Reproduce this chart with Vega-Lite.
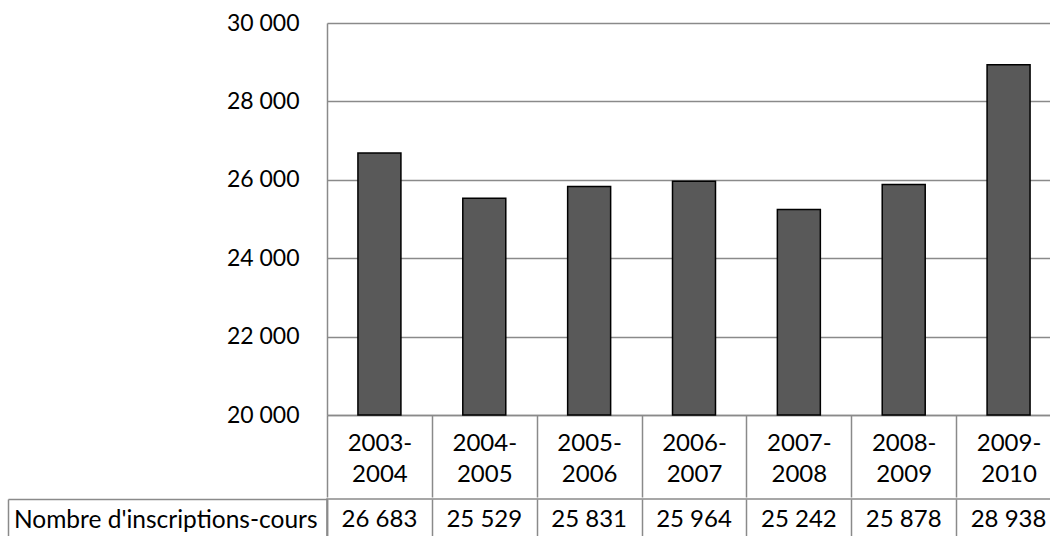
{
  "$schema": "https://vega.github.io/schema/vega-lite/v6.json",
  "padding": {"left": 6, "top": 12, "right": 0, "bottom": 0},
  "background": "white",
  "spacing": -13,
  "config": {
    "locale": {"number": {"decimal": ",", "thousands": " ", "grouping": [3], "currency": ["", " €"]}},
    "font": "Lato",
    "axis": {"labelFont": "Lato", "labelFontSize": 23, "labelColor": "#000", "labelLimit": 500, "domainColor": "#8a8a8a", "tickColor": "#8a8a8a", "gridColor": "#8a8a8a", "domainWidth": 1.5, "tickWidth": 1.5, "gridWidth": 1.5}
  },
  "data": {"values": [
    {"saison": "2003-2004", "inscriptions": 26683, "serie": "Nombre d'inscriptions-cours"},
    {"saison": "2004-2005", "inscriptions": 25529, "serie": "Nombre d'inscriptions-cours"},
    {"saison": "2005-2006", "inscriptions": 25831, "serie": "Nombre d'inscriptions-cours"},
    {"saison": "2006-2007", "inscriptions": 25964, "serie": "Nombre d'inscriptions-cours"},
    {"saison": "2007-2008", "inscriptions": 25242, "serie": "Nombre d'inscriptions-cours"},
    {"saison": "2008-2009", "inscriptions": 25878, "serie": "Nombre d'inscriptions-cours"},
    {"saison": "2009-2010", "inscriptions": 28938, "serie": "Nombre d'inscriptions-cours"}
  ]},
  "vconcat": [
    {
      "width": 734,
      "height": 392,
      "view": {"stroke": null},
      "mark": {"type": "bar", "fill": "#595959", "stroke": "#000000", "strokeWidth": 1.5, "width": {"band": 0.41}},
      "encoding": {
        "x": {"field": "saison", "type": "nominal", "sort": null,
          "scale": {"paddingInner": 0, "paddingOuter": 0},
          "axis": {"title": null, "orient": "bottom", "tickBand": "extent", "tickSize": 82, "labelPadding": -66, "labelFontSize": 24,
            "labelExpr": "[slice(datum.label, 0, 5), slice(datum.label, 5)]", "labelLineHeight": 31, "labelAngle": 0, "grid": false, "labelBaseline": "top"}},
        "y": {"field": "inscriptions", "type": "quantitative",
          "scale": {"domain": [20000, 30000], "nice": false, "zero": false},
          "axis": {"title": null, "values": [20000, 22000, 24000, 26000, 28000, 30000], "format": ",d", "ticks": false, "labelPadding": 28, "grid": true}},
        "y2": {"datum": 20000}
      }
    },
    {
      "width": 734,
      "height": 42,
      "view": {"stroke": "#8a8a8a", "strokeWidth": 1.5},
      "layer": [
        {
          "mark": {"type": "text", "fontSize": 24, "font": "Lato", "color": "#000000"},
          "encoding": {
            "x": {"field": "saison", "type": "nominal", "sort": null,
              "scale": {"type": "band", "paddingInner": 0, "paddingOuter": 0},
              "axis": {"title": null, "labels": false, "ticks": false, "domain": false, "grid": true, "tickBand": "extent", "orient": "bottom"}},
            "y": {"field": "serie", "type": "nominal",
              "scale": {"type": "band", "paddingInner": 0, "paddingOuter": 0},
              "axis": {"title": null, "tickBand": "extent", "tickSize": 319, "labelPadding": -309, "labelFontSize": 24.5, "domain": true, "grid": false}},
            "text": {"field": "inscriptions", "type": "quantitative", "format": ",d"}
          }
        },
        {
          "mark": {"type": "text", "opacity": 0},
          "encoding": {
            "y": {"field": "serie", "type": "nominal",
              "scale": {"type": "band", "paddingInner": 0, "paddingOuter": 0},
              "axis": {"title": null, "orient": "left", "offset": 319, "labels": false, "ticks": false, "domain": true, "grid": false}},
            "text": {"value": ""}
          }
        }
      ],
      "resolve": {"scale": {"y": "independent"}}
    }
  ]
}
